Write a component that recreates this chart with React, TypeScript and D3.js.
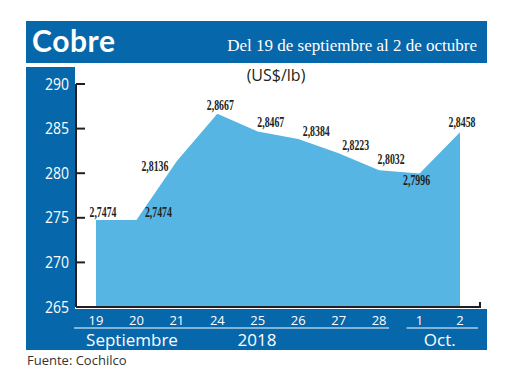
import React, { useEffect, useRef } from "react";
import * as d3 from "d3";

const days = ["19", "20", "21", "24", "25", "26", "27", "28", "1", "2"];
const prices = [274.74, 274.74, 281.36, 286.67, 284.67, 283.84, 282.23, 280.32, 279.96, 284.58];
const priceLabels = ["2,7474", "2,7474", "2,8136", "2,8667", "2,8467", "2,8384", "2,8223", "2,8032", "2,7996", "2,8458"];
const yTicks = [265, 270, 275, 280, 285, 290];
const monthGroups = [
  { name: "Septiembre", from: "19", to: "28" },
  { name: "Oct.", from: "1", to: "2" },
];

// nudges for the value labels (px), as placed in the original
const labelDx = [7, 22, -22, 3, 13, 18, 17, 12, -3, 2];
const labelDy = [-3, -3, 10, -4, -5, -3, -3, -6, 11, -5];

const BLUE = "#0767AB";
const AREA = "#56B5E2";
const INK = "#231F20";

export default function App() {
  const svgRef = useRef<SVGSVGElement>(null);

  useEffect(() => {
    const svg = d3.select(svgRef.current);
    svg.selectAll("*").remove();

    const x = d3.scalePoint<string>().domain(days).range([96, 460]);
    const y = d3.scaleLinear().domain([265, 290]).range([307, 84]);

    // header bar
    svg.append("rect").attr("x", 26).attr("y", 21).attr("width", 461).attr("height", 42).attr("fill", BLUE);
    svg
      .append("text")
      .attr("x", 32)
      .attr("y", 52)
      .attr("fill", "#fff")
      .attr("font-family", "Lato")
      .attr("font-weight", "bold")
      .attr("font-size", 30)
      .attr("textLength", 83)
      .attr("lengthAdjust", "spacing")
      .text("Cobre");
    svg
      .append("text")
      .attr("x", 477)
      .attr("y", 51)
      .attr("text-anchor", "end")
      .attr("fill", "#fff")
      .attr("font-family", "Liberation Serif")
      .attr("font-size", 17)
      .text("Del 19 de septiembre al 2 de octubre");

    // left panel and bottom band
    svg.append("rect").attr("x", 26).attr("y", 67).attr("width", 49).attr("height", 283).attr("fill", BLUE);
    svg.append("rect").attr("x", 26).attr("y", 309).attr("width", 461).attr("height", 41).attr("fill", BLUE);

    svg
      .append("text")
      .attr("x", 276)
      .attr("y", 81)
      .attr("text-anchor", "middle")
      .attr("fill", INK)
      .attr("font-family", "Open Sans")
      .attr("font-size", 16)
      .text("(US$/lb)");

    // area
    const area = d3
      .area<number>()
      .x((_, i) => x(days[i])!)
      .y0(y(265))
      .y1((d) => y(d));
    svg.append("path").attr("d", area(prices)!).attr("fill", AREA);

    // y axis
    const yAxis = svg.append("g").attr("transform", "translate(76,0)");
    yAxis
      .append("line")
      .attr("x1", 0)
      .attr("x2", 0)
      .attr("y1", y(290))
      .attr("y2", y(265))
      .attr("stroke", INK)
      .attr("stroke-width", 2);
    yAxis
      .selectAll("line.tick")
      .data(yTicks)
      .join("line")
      .attr("class", "tick")
      .attr("x1", 0)
      .attr("x2", 9)
      .attr("y1", (d) => y(d))
      .attr("y2", (d) => y(d))
      .attr("stroke", INK)
      .attr("stroke-width", 2);
    svg
      .append("g")
      .selectAll("text")
      .data(yTicks)
      .join("text")
      .attr("x", 69)
      .attr("y", (d) => y(d))
      .attr("dy", "0.35em")
      .attr("text-anchor", "end")
      .attr("fill", "#fff")
      .attr("font-family", "Open Sans")
      .attr("font-size", 16)
      .attr("textLength", 24)
      .attr("lengthAdjust", "spacingAndGlyphs")
      .text((d) => d);

    // x axis line
    svg
      .append("path")
      .attr("d", `M76,${y(265)}H480V${y(265) - 5}`)
      .attr("fill", "none")
      .attr("stroke", INK)
      .attr("stroke-width", 2);

    // x labels
    svg
      .append("g")
      .selectAll("text")
      .data(days)
      .join("text")
      .attr("x", (d) => x(d)!)
      .attr("y", 325)
      .attr("text-anchor", "middle")
      .attr("fill", "#fff")
      .attr("font-family", "Open Sans")
      .attr("font-size", 13)
      .text((d) => d);

    // month brackets
    const months = svg.append("g");
    monthGroups.forEach((m, i) => {
      const x0 = i === 0 ? 74 : x(m.from)! - 13;
      const x1 = i === 0 ? 389 : 478;
      months
        .append("line")
        .attr("x1", x0)
        .attr("x2", x1)
        .attr("y1", 328)
        .attr("y2", 328)
        .attr("stroke", "#fff")
        .attr("stroke-width", 1.2);
      months
        .append("text")
        .attr("x", i === 0 ? 132 : (x(m.from)! + x(m.to)!) / 2)
        .attr("y", 346)
        .attr("text-anchor", "middle")
        .attr("fill", "#fff")
        .attr("font-family", "Open Sans")
        .attr("font-size", 17)
        .text(m.name);
    });
    months
      .append("text")
      .attr("x", 257)
      .attr("y", 346)
      .attr("text-anchor", "middle")
      .attr("fill", "#fff")
      .attr("font-family", "Open Sans")
      .attr("font-size", 17)
      .text("2018");

    // value labels
    svg
      .append("g")
      .selectAll("text")
      .data(prices)
      .join("text")
      .attr("x", (_, i) => x(days[i])! + labelDx[i])
      .attr("y", (d, i) => y(d) + labelDy[i])
      .attr("text-anchor", "middle")
      .attr("fill", INK)
      .attr("font-family", "Liberation Serif")
      .attr("font-weight", "bold")
      .attr("font-size", 14)
      .attr("textLength", 27)
      .attr("lengthAdjust", "spacingAndGlyphs")
      .text((_, i) => priceLabels[i]);

    svg
      .append("text")
      .attr("x", 27)
      .attr("y", 365)
      .attr("fill", "#333")
      .attr("font-family", "Open Sans")
      .attr("font-size", 13)
      .text("Fuente: Cochilco");
  }, []);

  return (
    <svg
      ref={svgRef}
      width={520}
      height={390}
      style={{ position: "absolute", left: 0, top: 0, background: "#fff" }}
    />
  );
}
